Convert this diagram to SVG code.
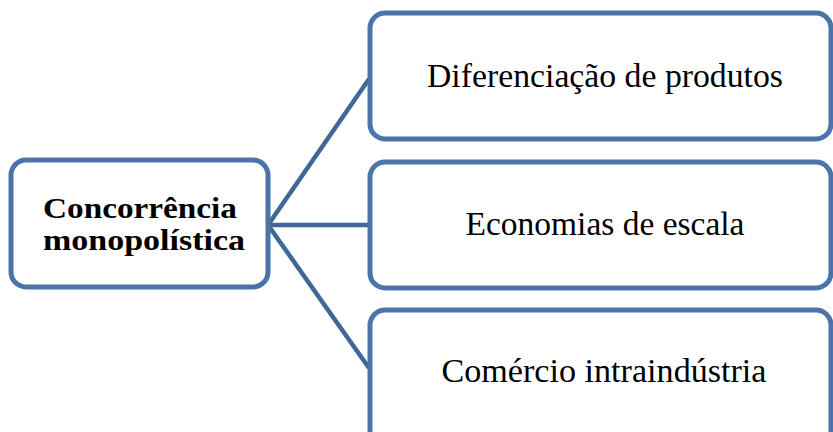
<svg xmlns="http://www.w3.org/2000/svg" width="833" height="432" viewBox="0 0 833 432">
<style>
.box{fill:#fff;stroke:#4a74aa;stroke-width:5}
.lbl{font-family:"Liberation Serif","DejaVu Serif",serif;font-size:33px;fill:#000;text-anchor:middle}
.b{font-weight:bold;font-size:29px}
.con{stroke:#3f6797;stroke-width:4.5;fill:none}
</style>
<rect width="833" height="432" fill="#fff"/>
<g id="connectors">
<line class="con" x1="268" y1="225" x2="369" y2="79"/>
<line class="con" x1="268" y1="225" x2="369" y2="225"/>
<line class="con" x1="268" y1="225" x2="369" y2="368"/>
</g>
<g id="n0">
<rect class="box" x="11" y="160" width="257" height="127" rx="15"/>
<text class="lbl b" x="140" y="218" textLength="194" lengthAdjust="spacingAndGlyphs">Concorrência</text>
<text class="lbl b" x="144" y="250" textLength="202" lengthAdjust="spacingAndGlyphs">monopolística</text>
</g>
<g id="n1">
<rect class="box" x="370" y="13" width="461" height="126" rx="15"/>
<text class="lbl" x="605" y="87" textLength="356" lengthAdjust="spacingAndGlyphs">Diferenciação de produtos</text>
</g>
<g id="n2">
<rect class="box" x="370" y="162" width="461" height="126" rx="15"/>
<text class="lbl" x="605" y="235" textLength="279" lengthAdjust="spacingAndGlyphs">Economias de escala</text>
</g>
<g id="n3">
<rect class="box" x="370" y="310" width="461" height="140" rx="15"/>
<text class="lbl" x="604" y="382" textLength="325" lengthAdjust="spacingAndGlyphs">Comércio intraindústria</text>
</g>
</svg>
